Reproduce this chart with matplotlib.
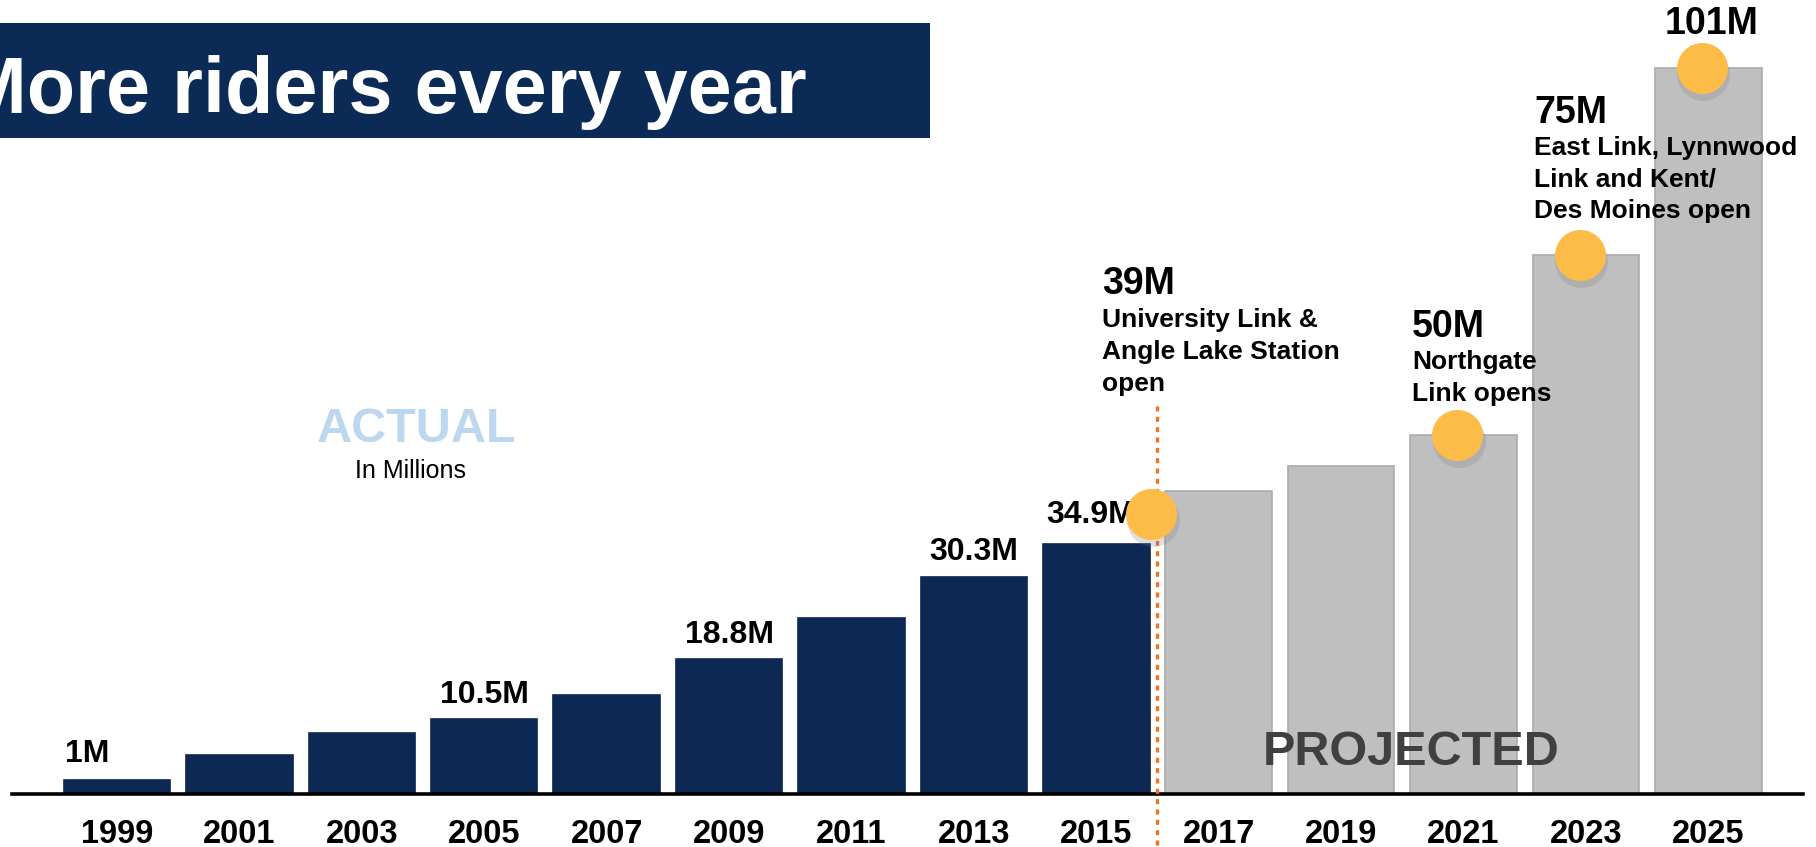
import matplotlib
matplotlib.use("Agg")
import matplotlib.pyplot as plt
from matplotlib.patches import Rectangle

plt.rcParams['font.family'] = ['Liberation Sans', 'DejaVu Sans']

# ridership by year (millions); 2017+ are projections
years = ['1999', '2001', '2003', '2005', '2007', '2009', '2011',
         '2013', '2015', '2017', '2019', '2021', '2023', '2025']
riders = [2.0, 5.5, 8.5, 10.5, 13.8, 18.8, 24.6, 30.3, 34.9,
          42.2, 45.7, 50.0, 75.0, 101.0]
n_actual = 9

# value labels sitting over the actual bars
bar_labels = {0: '1M', 3: '10.5M', 5: '18.8M', 7: '30.3M', 8: '34.9M'}

# milestone markers: (x position, riders, headline, description)
milestones = [
    (8.5, 39, '39M', 'University Link &\nAngle Lake Station\nopen'),
    (11, 50, '50M', 'Northgate\nLink opens'),
    (12, 75, '75M', 'East Link, Lynnwood\nLink and Kent/\nDes Moines open'),
    (13, 101, '101M', ''),
]

navy = '#0c2853'
grey = '#bfbfbf'
gold = '#fdbb48'

fig = plt.figure(figsize=(18.16, 8.47), dpi=100)
ax = fig.add_axes([0, 0.062, 1, 0.938])
ax.set_xlim(-0.956, 13.88)
ax.set_ylim(0, 110.5)
ax.axis('off')

x = list(range(len(years)))
colors = [navy] * n_actual + [grey] * (len(years) - n_actual)
edges = [navy] * n_actual + ['#ababab'] * (len(years) - n_actual)
ax.bar(x, riders, width=0.87, color=colors, edgecolor=edges, linewidth=1.2, zorder=2)

# baseline
ax.plot([-0.861, 13.77], [0, 0], color='black', lw=2.6, zorder=3, clip_on=False)

# year labels
for i, yr in enumerate(years):
    ax.text(i, -5.6, yr, ha='center', va='center', fontsize=23.5,
            fontweight='bold', clip_on=False)

# value labels
for i, lab in bar_labels.items():
    top = riders[i] + 3.4
    if i == 0:
        ax.text(-0.24, 5.6, lab, ha='center', va='center', fontsize=23, fontweight='bold')
    elif i == n_actual - 1:
        ax.text(i + 0.32, top + 0.6, lab, ha='right', va='center', fontsize=23, fontweight='bold')
    else:
        ax.text(i, top, lab, ha='center', va='center', fontsize=23, fontweight='bold')

# divider between actual and projected
ax.plot([8.5, 8.5], [54.1, -8], color='#f0741e', lw=2.4, ls=(0, (1.5, 1.6)),
        zorder=4, clip_on=False)

# milestone circles with a soft shadow
mx = [m[0] for m in milestones]
my = [m[1] for m in milestones]
ax.scatter([v - 0.04 for v in mx], [v - 0.8 for v in my], s=1450, color='#808080',
           alpha=0.25, linewidths=0, zorder=5)
ax.scatter([v - 0.05 for v in mx], my, s=1350, color=gold, linewidths=0, zorder=6)

# milestone text
ax.text(8.05, 71.0, '39M', ha='left', va='center', fontsize=27, fontweight='bold')
ax.text(8.05, 67.6, milestones[0][3], ha='left', va='top', fontsize=19,
        fontweight='bold', linespacing=1.4)
ax.text(10.58, 65.0, '50M', ha='left', va='center', fontsize=27, fontweight='bold')
ax.text(10.58, 61.8, milestones[1][3], ha='left', va='top', fontsize=19,
        fontweight='bold', linespacing=1.4)
ax.text(11.58, 94.8, '75M', ha='left', va='center', fontsize=27, fontweight='bold')
ax.text(11.58, 91.6, milestones[2][3], ha='left', va='top', fontsize=19,
        fontweight='bold', linespacing=1.4, zorder=7)
ax.text(13.03, 107.2, '101M', ha='center', va='center', fontsize=27, fontweight='bold')

# section labels
ax.text(2.45, 50.8, 'ACTUAL', ha='center', va='center', fontsize=35,
        fontweight='bold', color='#bdd7ee')
ax.text(2.40, 45.0, 'In Millions', ha='center', va='center', fontsize=18)
ax.text(10.57, 5.8, 'PROJECTED', ha='center', va='center', fontsize=35,
        fontweight='bold', color='#404040', zorder=7)

# title banner (the reference crops the first letter at the left edge)
fig.patches.append(Rectangle((0, 0.837), 0.512, 0.136, transform=fig.transFigure,
                             facecolor='#0b2a56', edgecolor='none', zorder=0))
fig.text(0.444, 0.866, 'More riders every year', ha='right', va='baseline',
         fontsize=57, fontweight='bold', color='white')

fig.savefig('out.png', dpi=100)
